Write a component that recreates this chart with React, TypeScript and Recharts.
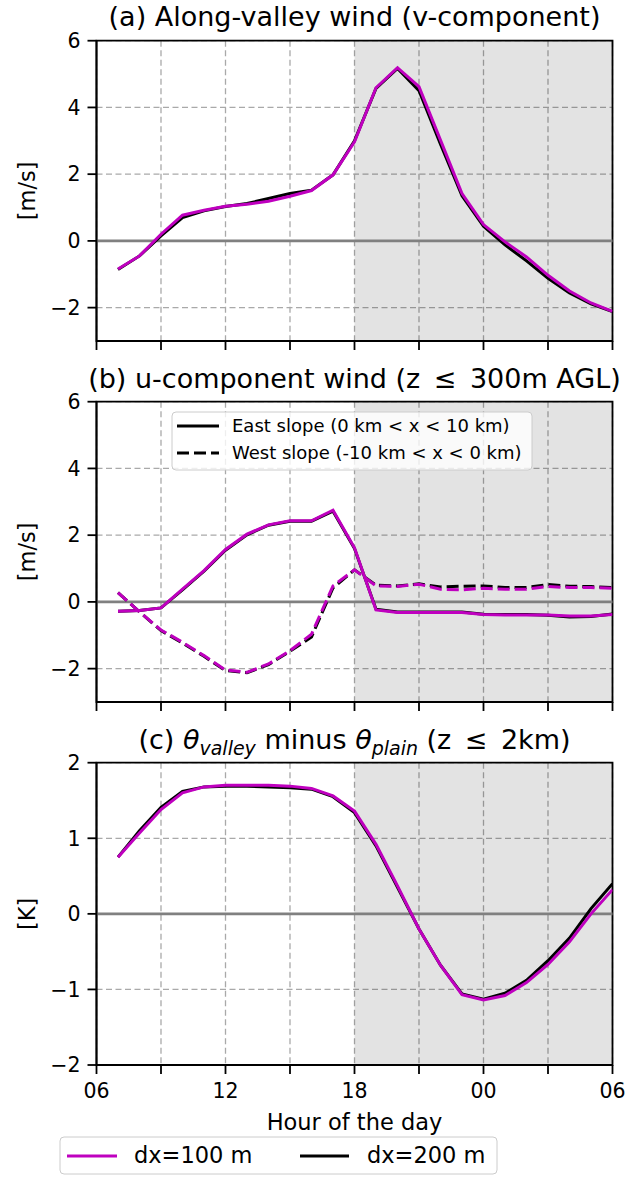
import React from 'react';
import {
  LineChart,
  Line,
  XAxis,
  YAxis,
  CartesianGrid,
  ReferenceArea,
  ReferenceLine,
  Label,
} from 'recharts';

// ---------- data ----------
const hours = [7, 8, 9, 10, 11, 12, 13, 14, 15, 16, 17, 18, 19, 20, 21, 22, 23, 24, 25, 26, 27, 28, 29, 30];
const xTicks = [6, 9, 12, 15, 18, 21, 24, 27, 30];
const xTickLabels: Record<number, string> = { 6: '06', 12: '12', 18: '18', 24: '00', 30: '06' };
const windTicks = [-2, 0, 2, 4, 6];
const thetaTicks = [-2, -1, 0, 1, 2];

// (a) along-valley wind
const vDx100 = [-0.84, -0.45, 0.2, 0.77, 0.92, 1.04, 1.1, 1.19, 1.34, 1.51, 1.98, 2.97, 4.59, 5.19, 4.62, 3.02, 1.42, 0.49, -0.03, -0.48, -1.03, -1.5, -1.86, -2.11];
const vDx200 = [-0.86, -0.45, 0.15, 0.7, 0.9, 1.03, 1.12, 1.27, 1.42, 1.52, 1.98, 3.0, 4.57, 5.17, 4.5, 2.9, 1.35, 0.44, -0.12, -0.6, -1.12, -1.56, -1.89, -2.12];

// (b) u-component wind
const eastDx100 = [-0.28, -0.26, -0.18, 0.38, 0.94, 1.57, 2.03, 2.31, 2.43, 2.43, 2.75, 1.62, -0.24, -0.32, -0.32, -0.32, -0.32, -0.38, -0.39, -0.39, -0.39, -0.42, -0.42, -0.38];
const eastDx200 = [-0.28, -0.26, -0.18, 0.36, 0.92, 1.55, 2.01, 2.3, 2.42, 2.42, 2.72, 1.6, -0.22, -0.3, -0.3, -0.3, -0.3, -0.37, -0.38, -0.38, -0.4, -0.45, -0.44, -0.36];
const westDx100 = [0.28, -0.3, -0.84, -1.21, -1.61, -2.04, -2.11, -1.86, -1.46, -0.97, 0.48, 0.96, 0.48, 0.46, 0.53, 0.38, 0.36, 0.41, 0.38, 0.38, 0.46, 0.43, 0.43, 0.41];
const westDx200 = [0.28, -0.3, -0.86, -1.23, -1.63, -2.06, -2.12, -1.88, -1.48, -1.05, 0.42, 0.96, 0.5, 0.48, 0.54, 0.45, 0.47, 0.48, 0.43, 0.43, 0.52, 0.47, 0.46, 0.43];

// (c) theta valley minus theta plain
const thDx100 = [0.75, 1.07, 1.38, 1.6, 1.68, 1.7, 1.7, 1.7, 1.69, 1.66, 1.56, 1.36, 0.92, 0.37, -0.2, -0.68, -1.07, -1.14, -1.08, -0.91, -0.67, -0.37, 0.0, 0.32];
const thDx200 = [0.75, 1.1, 1.41, 1.62, 1.68, 1.69, 1.69, 1.68, 1.67, 1.65, 1.55, 1.34, 0.9, 0.35, -0.2, -0.68, -1.06, -1.13, -1.05, -0.88, -0.62, -0.32, 0.07, 0.4];

// ---------- styling ----------
const FONT = '"DejaVu Sans", "Liberation Sans", sans-serif';
const MAGENTA = '#bf00bf';
const W = 629;
const PLOT_LEFT = 96.5;
const PLOT_RIGHT = 612.5;
const DASH = '12 5';

const dataA = hours.map((h, i) => ({ h, m: vDx100[i], k: vDx200[i] }));
const dataB = hours.map((h, i) => ({ h, em: eastDx100[i], ek: eastDx200[i], wm: westDx100[i], wk: westDx200[i] }));
const dataC = hours.map((h, i) => ({ h, m: thDx100[i], k: thDx200[i] }));

const fmtY = (v: number) => (v < 0 ? '\u2212' + Math.abs(v) : String(v));

type Series = { key: string; color: string; dash?: string };

const yLabelContent = (text: string, fallbackCy: number) => (props: any) => {
  const vb = props && props.viewBox;
  const cy = vb && typeof vb.y === 'number' && typeof vb.height === 'number' ? vb.y + vb.height / 2 : fallbackCy;
  return (
    <text
      x={27}
      y={cy}
      transform={`rotate(-90, 27, ${cy})`}
      textAnchor="middle"
      dominantBaseline="central"
      fontSize={22.5}
      fontFamily={FONT}
      fill="#000"
    >
      {text}
    </text>
  );
};

type PanelProps = {
  top: number;
  height: number;
  data: any[];
  series: Series[];
  yDomain: [number, number];
  yTicks: number[];
  yLabel: string;
  showXLabels: boolean;
  xAxisHeight: number;
  marginBottom: number;
};

function Panel(p: PanelProps) {
  const marginTop = 40.7;
  const plotH = p.height - marginTop - p.xAxisHeight - p.marginBottom;
  return (
    <div style={{ position: 'absolute', left: 0, top: p.top, width: W, height: p.height }}>
      <LineChart
        width={W}
        height={p.height}
        data={p.data}
        margin={{ top: marginTop, right: W - PLOT_RIGHT, left: 0, bottom: p.marginBottom }}
      >
        <ReferenceArea
          x1={18}
          x2={30}
          fill="#000000"
          fillOpacity={0.11}
          stroke="none"
          ifOverflow="hidden"
        />
        <CartesianGrid stroke="#a9a9a9" strokeDasharray="6 3.5" strokeWidth={1.3} />
        <XAxis
          dataKey="h"
          type="number"
          domain={[6, 30]}
          ticks={xTicks}
          interval={0}
          allowDataOverflow
          height={p.xAxisHeight}
          tickSize={9}
          tickMargin={9}
          tickFormatter={(v: number) => (p.showXLabels ? xTickLabels[v] ?? '' : '')}
          axisLine={{ stroke: '#000', strokeWidth: 1.8 }}
          tickLine={{ stroke: '#000', strokeWidth: 1.8 }}
          tick={{ fill: '#000', fontSize: 20.5, fontFamily: FONT }}
        >
          {p.showXLabels && (
            <Label
              value="Hour of the day"
              position="insideBottom"
              offset={5}
              fill="#000"
              fontSize={22.5}
              fontFamily={FONT}
            />
          )}
        </XAxis>
        <YAxis
          type="number"
          domain={p.yDomain}
          ticks={p.yTicks}
          interval={0}
          allowDataOverflow
          width={PLOT_LEFT}
          tickSize={9}
          tickMargin={7}
          tickFormatter={fmtY}
          axisLine={{ stroke: '#000', strokeWidth: 1.8 }}
          tickLine={{ stroke: '#000', strokeWidth: 1.8 }}
          tick={{ fill: '#000', fontSize: 20.5, fontFamily: FONT }}
        >
          <Label content={yLabelContent(p.yLabel, p.top + marginTop + plotH / 2)} />
        </YAxis>
        <ReferenceLine y={0} stroke="#808080" strokeWidth={2.6} />
        {p.series.map((s) => (
          <Line
            key={s.key}
            type="linear"
            dataKey={s.key}
            stroke={s.color}
            strokeWidth={3}
            strokeDasharray={s.dash}
            dot={false}
            activeDot={false}
            isAnimationActive={false}
          />
        ))}
        <ReferenceArea
          x1={6}
          x2={30}
          y1={p.yDomain[0]}
          y2={p.yDomain[1]}
          fill="none"
          fillOpacity={0}
          stroke="#000"
          strokeWidth={1.8}
        />
      </LineChart>
    </div>
  );
}

export default function App() {
  const titleX = (PLOT_LEFT + PLOT_RIGHT) / 2;
  return (
    <div style={{ position: 'absolute', left: 0, top: 0, width: W, height: 1177, background: '#fff', overflow: 'hidden' }}>
      <Panel
        top={0}
        height={361}
        data={dataA}
        series={[
          { key: 'k', color: '#000' },
          { key: 'm', color: MAGENTA },
        ]}
        yDomain={[-3, 6]}
        yTicks={windTicks}
        yLabel="[m/s]"
        showXLabels={false}
        xAxisHeight={20}
        marginBottom={0}
      />
      <Panel
        top={361}
        height={361}
        data={dataB}
        series={[
          { key: 'ek', color: '#000' },
          { key: 'wk', color: '#000', dash: DASH },
          { key: 'em', color: MAGENTA },
          { key: 'wm', color: MAGENTA, dash: DASH },
        ]}
        yDomain={[-3, 6]}
        yTicks={windTicks}
        yLabel="[m/s]"
        showXLabels={false}
        xAxisHeight={20}
        marginBottom={0}
      />
      <Panel
        top={722}
        height={455}
        data={dataC}
        series={[
          { key: 'k', color: '#000' },
          { key: 'm', color: MAGENTA },
        ]}
        yDomain={[-2, 2]}
        yTicks={thetaTicks}
        yLabel="[K]"
        showXLabels={true}
        xAxisHeight={70}
        marginBottom={42}
      />
      <svg
        width={W}
        height={1177}
        style={{ position: 'absolute', left: 0, top: 0, pointerEvents: 'none' }}
        fontFamily={FONT}
      >
        <text x={titleX} y={26} textAnchor="middle" fontSize={27} fill="#000">
          (a) Along-valley wind (v-component)
        </text>
        <text x={titleX} y={388} textAnchor="middle" fontSize={27} fill="#000">
          {'(b) u-component wind (z\u2002\u2264\u2002300m AGL)'}
        </text>
        <text x={titleX} y={749} textAnchor="middle" fontSize={27} fill="#000">
          {'(c) '}
          <tspan fontStyle="italic">θ</tspan>
          <tspan fontStyle="italic" fontSize={19} dy={6}>valley</tspan>
          <tspan dy={-6}>{' minus '}</tspan>
          <tspan fontStyle="italic">θ</tspan>
          <tspan fontStyle="italic" fontSize={19} dy={6}>plain</tspan>
          <tspan dy={-6}>{' (z\u2002\u2264\u20022km)'}</tspan>
        </text>

        {/* legend of panel (b) */}
        <rect x={172} y={412} width={360} height={58} rx={4} fill="#ffffff" fillOpacity={0.8} stroke="#cccccc" strokeWidth={1} />
        <line x1={177} x2={219} y1={426} y2={426} stroke="#000" strokeWidth={3} />
        <text x={232} y={432} fontSize={18} fill="#000">East slope (0 km &lt; x &lt; 10 km)</text>
        <line x1={177} x2={219} y1={453} y2={453} stroke="#000" strokeWidth={3} strokeDasharray={DASH} />
        <text x={232} y={459} fontSize={18} fill="#000">West slope (-10 km &lt; x &lt; 0 km)</text>

        {/* figure legend */}
        <rect x={60} y={1137} width={437} height={37} rx={4} fill="#ffffff" stroke="#cccccc" strokeWidth={1} />
        <line x1={67} x2={117} y1={1156} y2={1156} stroke={MAGENTA} strokeWidth={3} />
        <text x={134} y={1163} fontSize={22.5} fill="#000">dx=100 m</text>
        <line x1={300} x2={349} y1={1156} y2={1156} stroke="#000" strokeWidth={3} />
        <text x={367} y={1163} fontSize={22.5} fill="#000">dx=200 m</text>
      </svg>
    </div>
  );
}
